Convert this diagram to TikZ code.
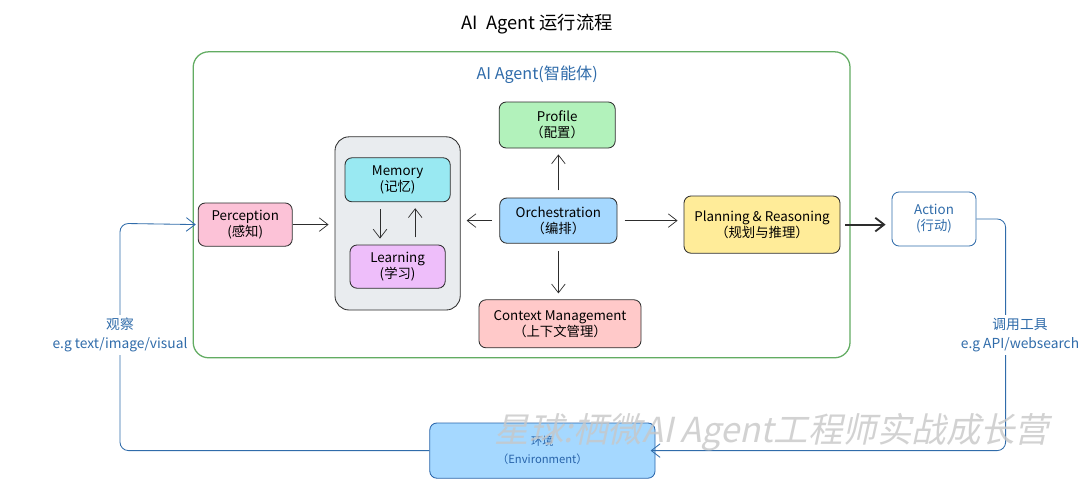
\documentclass[tikz,border=0pt]{standalone}
\usepackage{fontspec}
\setmainfont{Noto Sans CJK SC}
\newfontfamily\markfont[FakeSlant=0.22]{Noto Sans CJK SC}
\usepackage{xcolor}
\usepackage{tikz}
\usetikzlibrary{arrows.meta,positioning,calc}
\definecolor{agentgreen}{RGB}{98,172,98}
\definecolor{flowblue}{RGB}{48,108,170}
\definecolor{inkgray}{RGB}{45,45,45}
\definecolor{profilefill}{RGB}{178,242,187}
\definecolor{memoryfill}{RGB}{153,233,242}
\definecolor{learnfill}{RGB}{238,190,250}
\definecolor{percfill}{RGB}{252,194,215}
\definecolor{orchfill}{RGB}{165,216,255}
\definecolor{ctxfill}{RGB}{255,201,201}
\definecolor{planfill}{RGB}{255,236,153}
\definecolor{groupfill}{RGB}{233,236,239}
\definecolor{envdraw}{RGB}{40,100,170}

\begin{document}
\begin{tikzpicture}[x=1cm,y=1cm,
  box/.style={draw=inkgray,line width=0.6pt,rounded corners=5pt,align=center,
    inner sep=2pt,font=\fontsize{9.5}{11.5}\selectfont},
  arr/.style={draw=inkgray,line width=0.5pt,-{Straight Barb[length=2.2mm,width=3.4mm]},
    shorten <=0.18cm,shorten >=0.15cm},
  flow/.style={draw=flowblue,line width=0.6pt,rounded corners=6pt},
  note/.style={text=flowblue,align=center,fill=white,inner sep=2pt,
    font=\fontsize{9.8}{13.5}\selectfont}]
  % AI Agent 运行流程：智能体内部模块与外部环境的闭环。
  \fill[white] (0,0) rectangle (27,12.575);
  \useasboundingbox (0,0) rectangle (27,12.575);
  \node[font=\fontsize{13}{15}\selectfont] (title) at (13.43,11.98) {AI\ \ Agent 运行流程};
  \draw[agentgreen,line width=0.9pt,rounded corners=11pt] (4.83,3.63) rectangle (21.25,11.28);
  \node[font=\fontsize{11.5}{13}\selectfont,text=flowblue] (agentname) at (13.43,10.70) {AI Agent(智能体)};

  \node[box,fill=groupfill,rounded corners=10pt,minimum width=3.13cm,minimum height=4.33cm]
    (memgroup) at (9.94,6.99) {};
  \node[box,fill=memoryfill,minimum width=2.63cm,minimum height=1.10cm] (memory) at (9.94,8.08)
    {Memory\\(记忆)};
  \node[box,fill=learnfill,minimum width=2.38cm,minimum height=1.08cm] (learning) at (9.94,5.91)
    {Learning\\(学习)};
  \node[box,fill=percfill,minimum width=2.35cm,minimum height=1.08cm] (perception) at (6.13,6.96)
    {Perception\\(感知)};
  \node[box,fill=profilefill,minimum width=2.90cm,minimum height=1.15cm] (profile) at (13.93,9.45)
    {Profile\\（配置）};
  \node[box,fill=orchfill,minimum width=2.93cm,minimum height=1.13cm] (orch) at (13.96,7.06)
    {Orchestration\\（编排）};
  \node[box,fill=ctxfill,minimum width=4.05cm,minimum height=1.20cm] (context) at (14.00,4.48)
    {Context Management\\（上下文管理）};
  \node[box,fill=planfill,minimum width=3.90cm,minimum height=1.43cm] (planning) at (19.05,6.96)
    {Planning \& Reasoning\\（规划与推理）};
  \node[box,draw=flowblue,text=flowblue,fill=white,minimum width=2.10cm,minimum height=1.35cm]
    (action) at (23.35,7.10) {Action\\(行动)};
  \node[box,draw=envdraw,fill=orchfill,text=envdraw,minimum width=5.63cm,minimum height=1.38cm,
    font=\fontsize{8}{13}\selectfont] (env) at (13.56,1.31) {环境\\（Environment）};

  \draw[arr,shorten <=0pt] (perception.east) -- (perception.east -| memgroup.west);
  \draw[arr] ([xshift=-0.44cm]memory.south) -- ([xshift=-0.44cm]memory.south |- learning.north);
  \draw[arr] ([xshift=0.44cm]learning.north) -- ([xshift=0.44cm]learning.north |- memory.south);
  \draw[arr] (orch.west) -- (orch.west -| memgroup.east);
  \draw[arr] (orch.north) -- (orch.north |- profile.south);
  \draw[arr] (orch.south) -- (orch.south |- context.north);
  \draw[arr] (orch.east) -- (orch.east -| planning.west);
  \draw[arr,line width=1.3pt,shorten <=0.12cm] (planning.east) -- (planning.east -| action.west);

  \coordinate (obsturn) at (3.00,6.99);
  \draw[flow,-{Straight Barb[length=2.2mm,width=3.4mm]},shorten >=0.05cm]
    (env.west) -| (obsturn) -- (perception.west);
  \draw[flow,-{Straight Barb[length=2.2mm,width=3.4mm]},shorten >=-0.12cm]
    (action.east) -- ++(0.73,0) |- (env.east);
  \node[note] (obslabel) at (3.00,4.20) {观察\\e.g text/image/visual};
  \node[note] (toollabel) at (25.50,4.20) {调用工具\\e.g API/websearch};

  \node[font=\markfont\fontsize{24.5}{26}\selectfont,text=black!22,opacity=0.8] (mark) at (19.30,1.78)
    {星球:栖微AI Agent工程师实战成长营};
\end{tikzpicture}
\end{document}
